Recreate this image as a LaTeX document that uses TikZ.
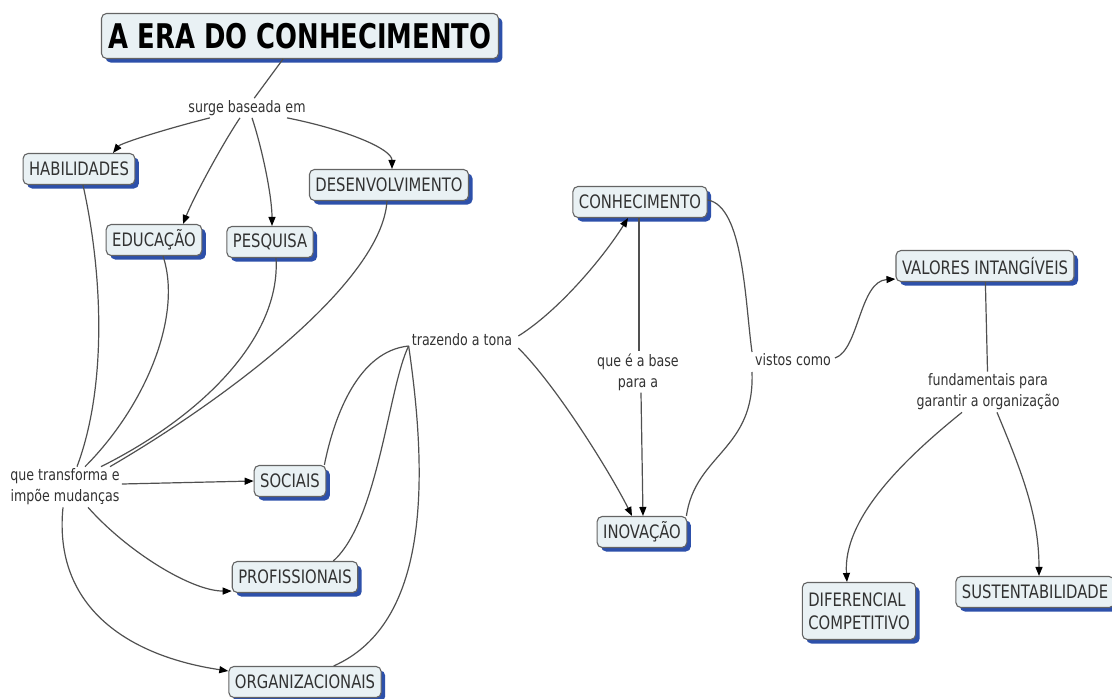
\documentclass[tikz,border=0pt]{standalone}
\usepackage{fontspec}
\setmainfont{DejaVu Sans}[FakeStretch=0.8]
\newfontfamily\titlefont{DejaVu Sans}[FakeStretch=0.76]
\usetikzlibrary{arrows.meta,calc,shadows}
\definecolor{boxfill}{RGB}{233,241,244}
\definecolor{boxline}{RGB}{100,100,100}
\definecolor{shade}{RGB}{45,80,170}
\definecolor{linkc}{RGB}{80,80,80}
\definecolor{txt}{RGB}{50,50,50}
\tikzset{
  concept/.style={draw=boxline, line width=1.1pt, fill=boxfill, rounded corners=5pt,
    inner xsep=6pt, inner ysep=0pt, minimum height=31pt, text=txt,
    font=\fontsize{18.5}{23}\selectfont,
    drop shadow={shadow xshift=4pt, shadow yshift=-4pt, fill=shade, opacity=1}},
  titlebox/.style={concept, font=\titlefont\bfseries\fontsize{34}{40}\selectfont,
    text=black, minimum height=45pt, inner xsep=7pt},
  linkph/.style={text=txt, font=\fontsize{15.8}{21}\selectfont, inner sep=2pt, align=center},
  conn/.style={draw=linkc, line width=1.2pt},
  arr/.style={conn, -{Triangle[length=9pt,width=7pt,color=black]}}
}
\begin{document}
\begin{tikzpicture}[x=1pt,y=-1pt]
\useasboundingbox (0,0) rectangle (1112,699);
% concepts
\node[titlebox] (title) at (300,36) {A ERA DO CONHECIMENTO};
\node[concept] (hab) at (79,169) {HABILIDADES};
\node[concept] (edu) at (154,240) {EDUCAÇÃO};
\node[concept] (pes) at (270,242) {PESQUISA};
\node[concept] (des) at (389,185) {DESENVOLVIMENTO};
\node[concept] (soc) at (290,481) {SOCIAIS};
\node[concept] (prof) at (295,577) {PROFISSIONAIS};
\node[concept] (org) at (305,682) {ORGANIZACIONAIS};
\node[concept] (conh) at (640,202) {CONHECIMENTO};
\node[concept] (inov) at (642,532) {INOVAÇÃO};
\node[concept] (val) at (985,266) {VALORES INTANGÍVEIS};
\node[concept, align=left, minimum height=57pt] (dif) at (859,611) {DIFERENCIAL\\COMPETITIVO};
\node[concept] (sus) at (1035,592) {SUSTENTABILIDADE};
% linking phrases
\node[linkph] (surge) at (247,108) {surge baseada em};
\node[linkph] (qt) at (65,487) {que transforma e\\impõe mudanças};
\node[linkph] (traz) at (462,340) {trazendo a tona};
\node[linkph] (base) at (638,372) {que é a base\\para a};
\node[linkph] (vistos) at (793,360) {vistos como};
\node[linkph] (fund) at (988,392) {fundamentais para\\garantir a organização};
% connectors
\draw[conn] (title) -- (surge);
\draw[arr] ($(surge.south)+(-37,0)$) .. controls +(-40,10) and +(8,-10) .. ($(hab.north)+(34,0)$);
\draw[arr] ($(surge.south)+(-7,0)$) .. controls +(-20,30) and +(10,-25) .. ($(edu.north)+(29,0)$);
\draw[arr] ($(surge.south)+(5,0)$) .. controls +(10,30) and +(0,-30) .. ($(pes.north)+(2,0)$);
\draw[arr] ($(surge.south)+(40,0)$) .. controls +(60,12) and +(0,-20) .. ($(des.north)+(3,0)$);
\draw[conn] ($(hab.south)+(4,0)$) .. controls +(20,90) and +(30,-80) .. ($(qt.north)+(12,0)$);
\draw[conn] ($(edu.south)+(9,0)$) .. controls +(20,60) and +(60,-60) .. ($(qt.north)+(20,0)$);
\draw[conn] ($(pes.south)+(6,0)$) .. controls +(5,80) and +(100,-50) .. ($(qt.north)+(36,0)$);
\draw[conn] ($(des.south)+(-2,0)$) .. controls +(-5,80) and +(120,-70) .. ($(qt.north)+(45,0)$);
\draw[arr] ($(qt.east)+(0,-3)$) -- (soc.west);
\draw[arr] ($(qt.south)+(23,0)$) .. controls +(40,45) and +(-40,0) .. ($(prof.south west)+(0,-2)$);
\draw[arr] ($(qt.south)+(-2,0)$) .. controls +(-10,100) and +(-100,-15) .. ($(org.west)+(0,-11)$);
\draw[conn] ($(soc.north east)+(-2,0)$) .. controls +(10,-50) and +(-50,5) .. ($(traz.west)+(-1,6)$);
\draw[conn] ($(prof.north east)+(-25,0)$) .. controls +(45,-40) and +(-20,40) .. ($(traz.west)+(-1,6)$);
\draw[conn] ($(org.north east)+(-48,0)$) .. controls +(90,-40) and +(22,150) .. ($(traz.west)+(-1,6)$);
\draw[arr] ($(traz.east)+(4,-4)$) .. controls +(40,-25) and +(-25,40) .. ($(conh.south)+(-12,0)$);
\draw[arr] ($(traz.east)+(4,8)$) .. controls +(40,40) and +(-20,-40) .. ($(inov.north)+(-10,0)$);
\draw[conn] ($(conh.south)+(-1,0)$) -- ($(base.north)+(1,0)$);
\draw[arr] ($(base.south)+(3,0)$) -- ($(inov.north)+(1,0)$);
\draw[conn] ($(conh.east)+(0,-2)$) .. controls +(36,6) and +(-7,-50) .. ($(vistos.west)+(-1,-8)$);
\draw[conn] ($(inov.north east)+(-1,0)$) .. controls +(9,-62) and +(3,78) .. ($(vistos.west)+(-1,12)$);
\draw[arr] ($(vistos.east)+(2,-2)$) .. controls +(24,-8) and +(-36,2) .. ($(val.south west)+(0,-3)$);
\draw[conn] (val) -- (fund);
\draw[arr] ($(fund.south)+(-26,0)$) .. controls +(-62,50) and +(-4,-62) .. ($(dif.north)+(-12,0)$);
\draw[arr] ($(fund.south)+(9,0)$) .. controls +(25,60) and +(0,-60) .. ($(sus.north)+(4,0)$);
\end{tikzpicture}
\end{document}
